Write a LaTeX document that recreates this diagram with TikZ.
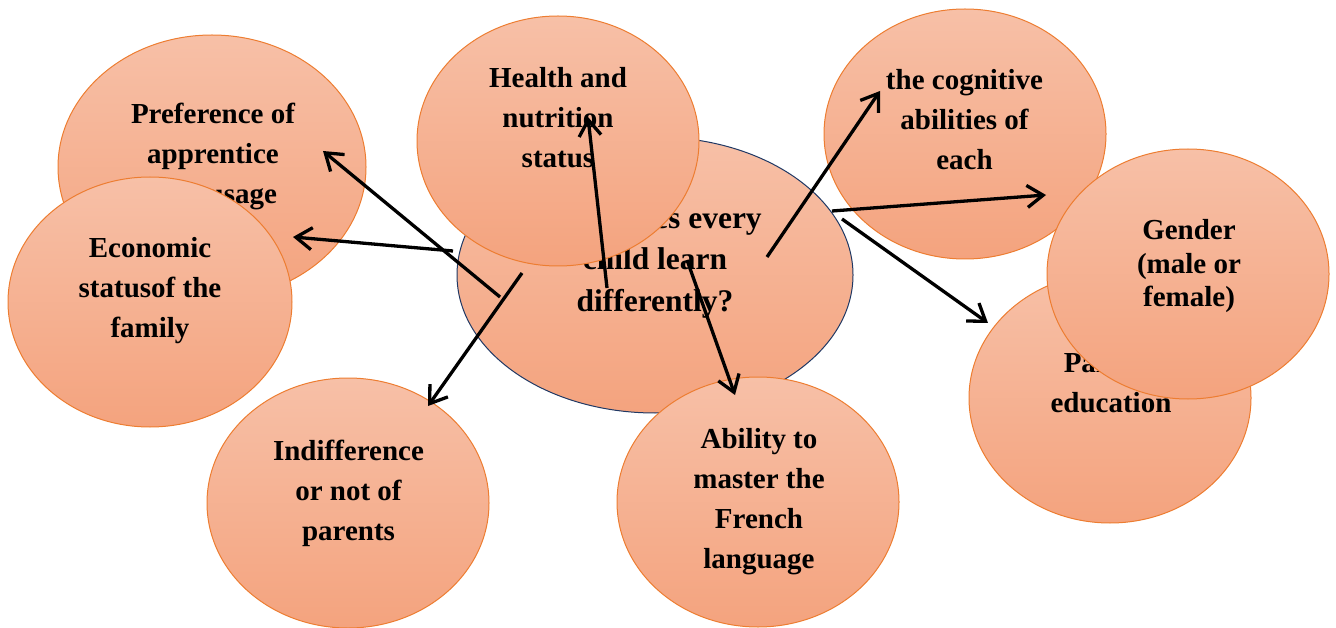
\documentclass[tikz,border=0pt]{standalone}
\usepackage{fontspec}
\setmainfont{Liberation Serif}
\usetikzlibrary{arrows.meta,shapes.geometric}
\definecolor{bubbletop}{RGB}{247,192,167}
\definecolor{bubblebot}{RGB}{244,163,126}
\definecolor{bubbleline}{RGB}{237,125,49}
\definecolor{hubline}{RGB}{31,56,100}

\begin{document}
\begin{tikzpicture}[x=1pt, y=-1pt,
  bubble/.style={ellipse, draw=bubbleline, line width=1pt, top color=bubbletop, bottom color=bubblebot,
    minimum width=282pt, minimum height=250pt, inner sep=0pt},
  hub/.style={bubble, draw=hubline, minimum width=396pt, minimum height=276pt},
  lbl/.style={align=center, inner sep=0pt, font=\fontsize{29}{40}\selectfont\bfseries},
  link/.style={line width=3.3pt, -{Straight Barb[length=16pt,width=22pt]}}]
\useasboundingbox (0,0) rectangle (1336,628);
% central question
\node[hub] (hub) at (655,275) {};
\node[lbl, font=\fontsize{31.5}{41.5}\selectfont\bfseries] (hub-t) at (655,262) {Why does every\\child learn\\differently?};
% left side
\node[bubble, minimum width=308pt, minimum height=264pt] (pref) at (212,167) {};
\node[lbl] (pref-t) at (213,156.5) {Preference of\\apprentice\\own usage};
\node[bubble, minimum width=284pt] (econ) at (150,302) {};
\node[lbl] (econ-t) at (150,291) {Economic\\statusof the\\family};
\node[bubble] (health) at (558,141) {};
\node[lbl] (health-t) at (558,117.5) {Health and\\nutrition\\status};
% right side
\node[bubble] (cogn) at (965,134) {};
\node[lbl] (cogn-t) at (964.5,119.5) {the cognitive\\abilities of\\each};
\node[bubble] (parent) at (1110,398) {};
\node[lbl] (parent-t) at (1111,383.5) {Parents\\education};
\node[bubble] (gender) at (1188,274) {};
\node[lbl, font=\fontsize{29}{33.5}\selectfont\bfseries] (gender-t) at (1189,266.5) {Gender\\(male or\\female)};
% bottom
\node[bubble] (indif) at (348,503) {};
\node[lbl] (indif-t) at (348.5,493) {Indifference\\or not of\\parents};
\node[bubble] (french) at (758,502) {};
\node[lbl] (french-t) at (759,501.5) {Ability to\\master the\\French\\language};
% arrow ends
\coordinate (hub-w) at (453,251);
\coordinate (hub-nw) at (500,297);
\coordinate (hub-sw) at (522,273);
\coordinate (hub-n) at (607,288);
\coordinate (hub-s) at (687,260);
\coordinate (hub-ne) at (767,257);
\coordinate (hub-e) at (832,211);
\coordinate (hub-se) at (842,219);
\coordinate (econ-in) at (293,237);
\coordinate (pref-in) at (323,151);
\coordinate (indif-in) at (428,406);
\coordinate (health-in) at (588,117);
\coordinate (french-in) at (735,395);
\coordinate (cogn-in) at (880,91);
\coordinate (gender-in) at (1046,195);
\coordinate (parent-in) at (988,323);
\draw[link] (hub-w) -- (econ-in);
\draw[link] (hub-nw) -- (pref-in);
\draw[link] (hub-sw) -- (indif-in);
\draw[link] (hub-n) -- (health-in);
\draw[link] (hub-s) -- (french-in);
\draw[link] (hub-ne) -- (cogn-in);
\draw[link] (hub-e) -- (gender-in);
\draw[link] (hub-se) -- (parent-in);
\end{tikzpicture}
\end{document}
